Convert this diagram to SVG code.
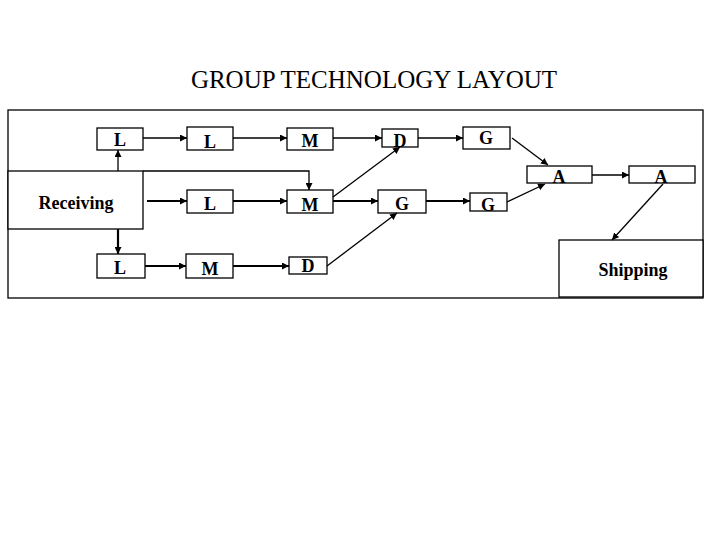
<svg xmlns="http://www.w3.org/2000/svg" width="720" height="540" viewBox="0 0 720 540">
<defs><marker id="ah" viewBox="0 0 10 10" refX="10" refY="5" markerWidth="7" markerHeight="7" markerUnits="userSpaceOnUse" orient="auto"><path d="M0,0L10,5L0,10z" fill="#000"/></marker></defs>
<style>
rect{fill:#fff;stroke:#000;stroke-width:1.3}
text{font-family:"Liberation Serif",serif;font-weight:bold;font-size:18px;text-anchor:middle}
.c line,.c polyline{stroke:#000;stroke-width:1.3;fill:none;marker-end:url(#ah)}
.c .t{stroke-width:2.2}
</style>
<rect x="0" y="0" width="720" height="540" style="fill:#fff;stroke:none"/>
<text x="374" y="88" style="font-size:25px;font-weight:normal">GROUP TECHNOLOGY LAYOUT</text>
<rect id="frame" x="8" y="110" width="695" height="188"/>
<g id="n-recv"><rect x="8" y="171" width="135" height="58"/><text x="76" y="209">Receiving</text></g>
<g id="n-l1"><rect x="97" y="128" width="46" height="22"/><text x="120" y="146">L</text></g>
<g id="n-l2"><rect x="187" y="127" width="46" height="23"/><text x="210" y="148">L</text></g>
<g id="n-m1"><rect x="287" y="128" width="46" height="22"/><text x="310" y="147">M</text></g>
<g id="n-d1"><rect x="382" y="129" width="36" height="18"/><text x="400" y="147">D</text></g>
<g id="n-g1"><rect x="463" y="127" width="47" height="22"/><text x="486" y="144">G</text></g>
<g id="n-a1"><rect x="527" y="166" width="65" height="17"/><text x="559" y="183">A</text></g>
<g id="n-a2"><rect x="629" y="166" width="66" height="17"/><text x="661" y="183">A</text></g>
<g id="n-l4"><rect x="187" y="190" width="46" height="23"/><text x="210" y="210">L</text></g>
<g id="n-m2"><rect x="287" y="190" width="46" height="23"/><text x="310" y="211">M</text></g>
<g id="n-g2"><rect x="378" y="190" width="48" height="23"/><text x="402" y="210">G</text></g>
<g id="n-g3"><rect x="470" y="193" width="37" height="18"/><text x="488" y="211">G</text></g>
<g id="n-l3"><rect x="97" y="254" width="48" height="24"/><text x="120" y="274">L</text></g>
<g id="n-m3"><rect x="186" y="254" width="47" height="24"/><text x="210" y="275">M</text></g>
<g id="n-d3"><rect x="289" y="257" width="38" height="17"/><text x="308" y="272">D</text></g>
<g id="n-ship"><rect x="559" y="240" width="144" height="57"/><text x="633" y="276">Shipping</text></g>
<g class="c">
<line x1="118" y1="171" x2="118" y2="150"/>
<polyline points="143,171 309,171 309,190"/>
<line x1="143" y1="138" x2="187" y2="138"/>
<line x1="233" y1="138" x2="287" y2="138"/>
<line x1="333" y1="138" x2="382" y2="138"/>
<line x1="418" y1="138" x2="463" y2="138"/>
<line x1="512" y1="138" x2="548" y2="165"/>
<line x1="592" y1="175" x2="629" y2="175"/>
<line x1="663" y1="184" x2="612" y2="240"/>
<line class="t" x1="147" y1="201" x2="187" y2="201"/>
<line class="t" x1="233" y1="201" x2="287" y2="201"/>
<line class="t" x1="333" y1="201" x2="378" y2="201"/>
<line class="t" x1="426" y1="201" x2="470" y2="201"/>
<line x1="333" y1="197" x2="400" y2="147"/>
<line x1="507" y1="202" x2="545" y2="184"/>
<line class="t" x1="118" y1="229" x2="118" y2="254"/>
<line class="t" x1="145" y1="266" x2="186" y2="266"/>
<line class="t" x1="233" y1="266" x2="289" y2="266"/>
<line x1="327" y1="266" x2="397" y2="213"/>
</g>
</svg>
